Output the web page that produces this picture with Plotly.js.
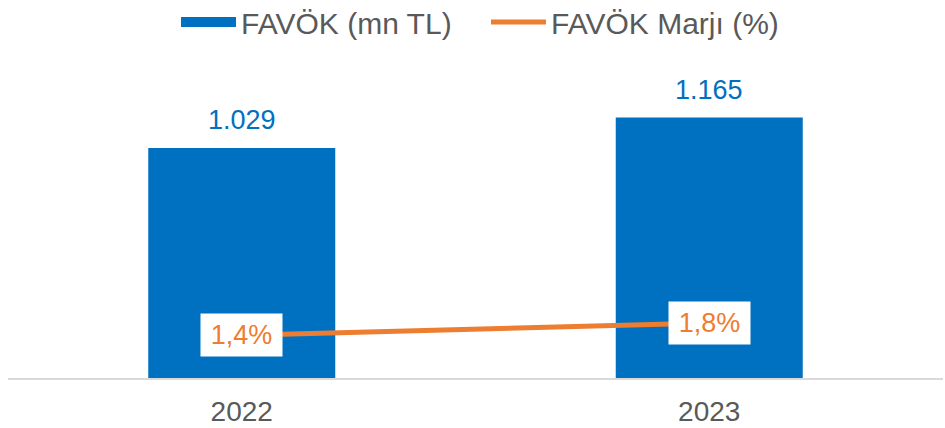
<!DOCTYPE html>
<html>
<head>
<meta charset="utf-8">
<script src="https://cdn.plot.ly/plotly-3.0.1.min.js"></script>
<style>
  html, body { margin: 0; padding: 0; background: #ffffff; }
  #chart { width: 945px; height: 428px; }
</style>
</head>
<body>
<div id="chart"></div>
<script>
// ---- data ----
const categories = ['2022', '2023'];
const favokValues = [1029, 1165];          // FAVÖK (mn TL)
const marginValues = [1.4, 1.8];           // FAVÖK Marjı (%)
const barName = 'FAVÖK (mn TL)';
const lineName = 'FAVÖK Marjı (%)';

// ---- styles ----
const BLUE = '#0070C0';
const ORANGE = '#ED7D31';
const GRAY = '#595959';
const FONT = 'Liberation Sans, Arial, sans-serif';

const fmtThousands = v => String(v).replace(/\B(?=(\d{3})+(?!\d))/g, '.');
const fmtPct = v => v.toFixed(1).replace('.', ',') + '%';

const traces = [
  {
    type: 'bar',
    name: barName,
    x: categories,
    y: favokValues,
    marker: { color: BLUE },
    width: 0.4,
    showlegend: false,
    legendgroup: 'bar',
    hoverinfo: 'x+y'
  },
  {
    // legend entry for the bars (wide rectangle swatch)
    type: 'scatter',
    mode: 'lines',
    name: barName,
    x: [null],
    y: [null],
    legendgroup: 'bar',
    line: { color: BLUE, width: 16 },
    hoverinfo: 'skip'
  },
  {
    type: 'scatter',
    mode: 'lines',
    name: lineName,
    x: categories,
    y: marginValues,
    yaxis: 'y2',
    line: { color: ORANGE, width: 5 },
    hoverinfo: 'x+y'
  }
];

const annotations = [];
categories.forEach((c, i) => {
  annotations.push({
    x: i, y: favokValues[i], xref: 'x', yref: 'y',
    text: fmtThousands(favokValues[i]),
    showarrow: false, yanchor: 'bottom', yshift: 11,
    font: { family: FONT, size: 27, color: BLUE }
  });
  annotations.push({
    x: i, y: marginValues[i], xref: 'x', yref: 'y2',
    text: fmtPct(marginValues[i]),
    showarrow: false, xanchor: 'center', yanchor: 'middle',
    bgcolor: '#ffffff', borderpad: 5, width: 71, height: 32,
    font: { family: FONT, size: 27, color: ORANGE }
  });
});

const layout = {
  width: 945, height: 428,
  margin: { l: 8, r: 2, t: 65, b: 50, autoexpand: false },
  paper_bgcolor: '#ffffff',
  plot_bgcolor: '#ffffff',
  separators: ',.',
  font: { family: FONT, color: GRAY, size: 27 },
  showlegend: true,
  legend: {
    orientation: 'h',
    x: 0.1797, xanchor: 'left',
    y: 1.137, yanchor: 'middle',
    font: { family: FONT, size: 30, color: GRAY },
    itemwidth: 55,
    entrywidth: 240,
    entrywidthmode: 'pixels',
    traceorder: 'normal'
  },
  xaxis: {
    type: 'category',
    range: [-0.5, 1.5],
    showgrid: false,
    zeroline: false,
    showline: true,
    linecolor: '#D9D9D9',
    linewidth: 1.5,
    ticks: '',
    ticklabelstandoff: 8,
    tickfont: { family: FONT, size: 28, color: GRAY }
  },
  yaxis: {
    range: [0, 1400],
    visible: false,
    showgrid: false,
    zeroline: false
  },
  yaxis2: {
    range: [0, 10.25],
    overlaying: 'y',
    side: 'right',
    visible: false,
    showgrid: false,
    zeroline: false
  },
  annotations: annotations
};

Plotly.newPlot('chart', traces, layout, { displayModeBar: false, staticPlot: true });
</script>
</body>
</html>
